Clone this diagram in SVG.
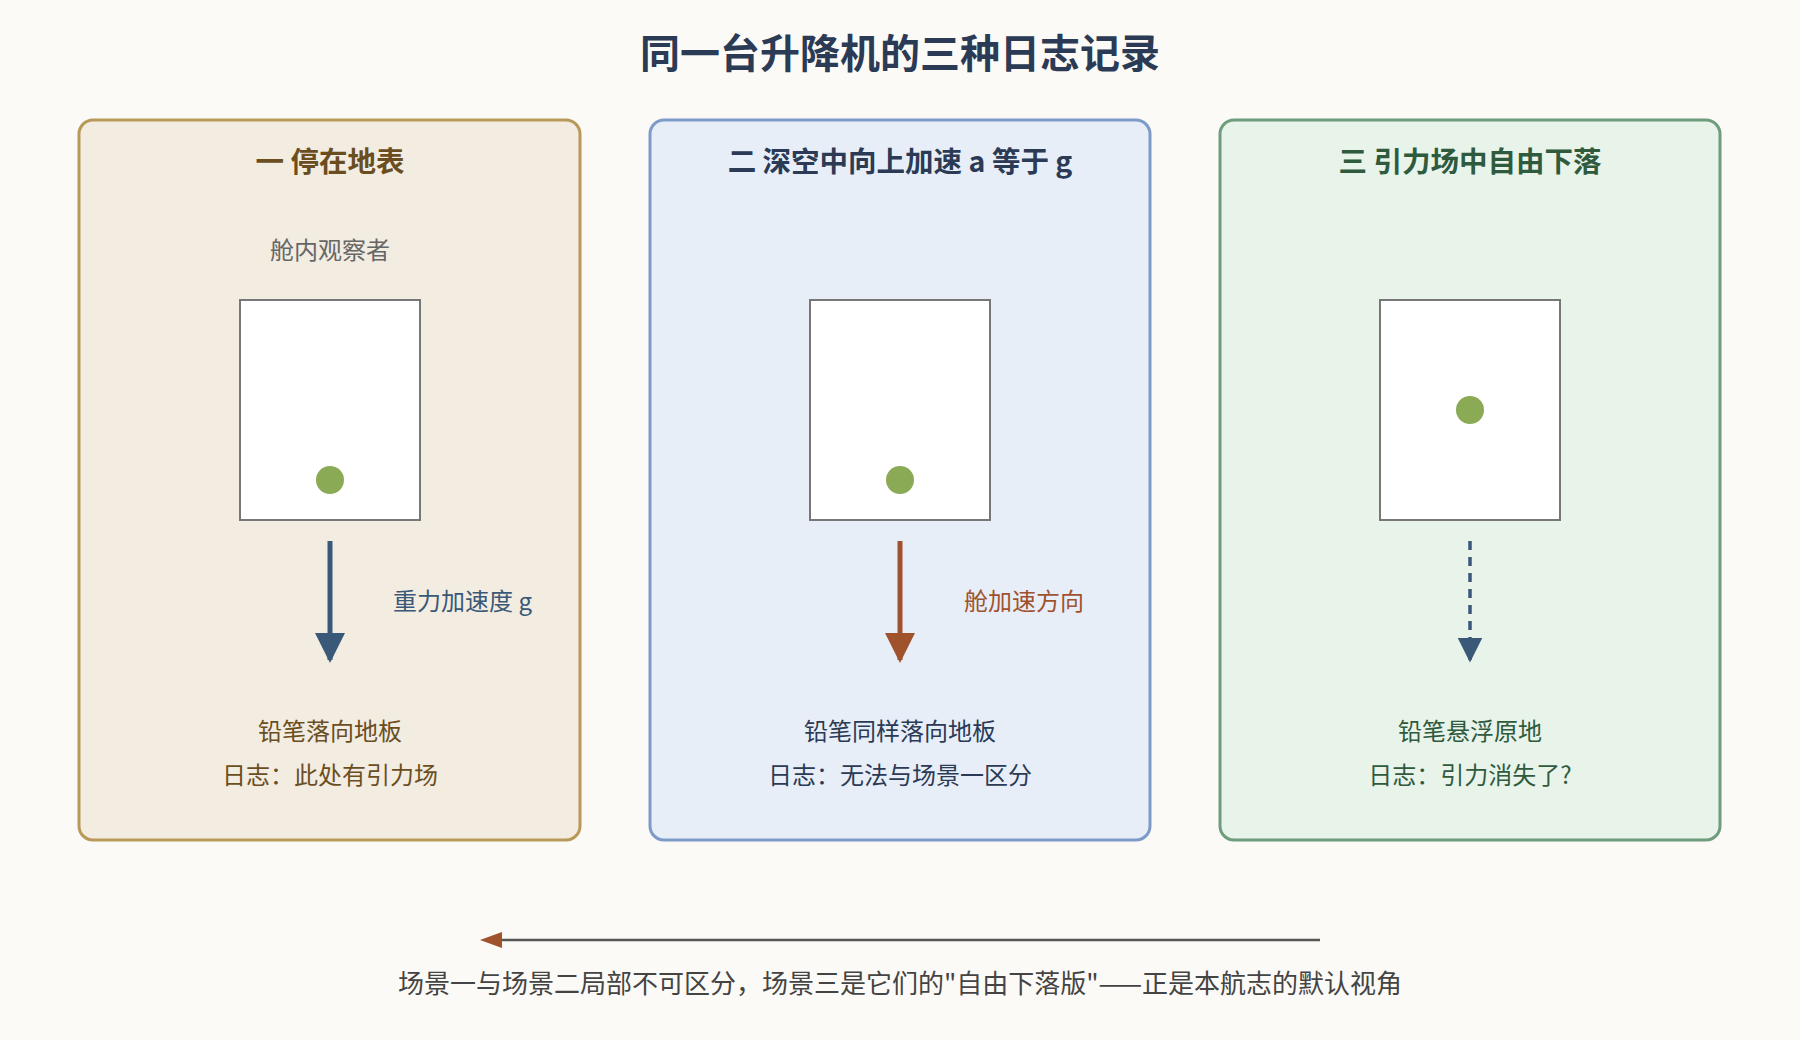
<svg xmlns="http://www.w3.org/2000/svg" width="1800" height="1040" viewBox="0 0 1800 1040">
<style>
text{font-family:"Noto Sans CJK SC","Noto Sans",sans-serif;text-anchor:middle}
.title{font-size:40px;font-weight:bold;fill:#2b3a55}
.pt{font-size:28.5px;font-weight:bold}
.t{font-size:24px}
.box{fill:#fff;stroke:#777;stroke-width:2}
.dot{fill:#8aaa55}
</style>
<defs>
<marker id="hb" viewBox="0 0 10 10" refX="9" refY="5" markerWidth="7" markerHeight="6" orient="auto" markerUnits="strokeWidth"><path d="M0,0L10,5L0,10z" fill="#3a5878"/></marker>
<marker id="ho" viewBox="0 0 10 10" refX="9" refY="5" markerWidth="7" markerHeight="6" orient="auto" markerUnits="strokeWidth"><path d="M0,0L10,5L0,10z" fill="#a0522d"/></marker>
<marker id="hd" viewBox="0 0 10 10" refX="9" refY="5" markerWidth="7.5" markerHeight="7" orient="auto" markerUnits="strokeWidth"><path d="M0,0L10,5L0,10z" fill="#3a5878"/></marker>
</defs>
<rect width="1800" height="1040" fill="#fcfaf6"/>
<text class="title" x="900" y="68">同一台升降机的三种日志记录</text>
<g id="scene1">
<rect x="79" y="120" width="501" height="720" rx="14" fill="#f2ece1" stroke="#b8995a" stroke-width="3"/>
<text class="pt" x="330" y="172" fill="#6b4e1f">一 停在地表</text>
<text class="t" x="330" y="259" fill="#666">舱内观察者</text>
<rect class="box" x="240" y="300" width="180" height="220"/>
<circle class="dot" cx="330" cy="480" r="14"/>
<text class="t" x="330" y="740" fill="#6b4e1f">铅笔落向地板</text>
<text class="t" x="330" y="784" fill="#6b4e1f">日志：此处有引力场</text>
</g>
<g id="scene2">
<rect x="650" y="120" width="500" height="720" rx="14" fill="#e7eef8" stroke="#7d9ac9" stroke-width="3"/>
<text class="pt" x="900" y="172" fill="#2b3a55">二 深空中向上加速 a 等于 g</text>
<rect class="box" x="810" y="300" width="180" height="220"/>
<circle class="dot" cx="900" cy="480" r="14"/>
<text class="t" x="900" y="740" fill="#2b3a55">铅笔同样落向地板</text>
<text class="t" x="900" y="784" fill="#2b3a55">日志：无法与场景一区分</text>
</g>
<g id="scene3">
<rect x="1220" y="120" width="500" height="720" rx="14" fill="#e8f3ea" stroke="#6e9c7c" stroke-width="3"/>
<text class="pt" x="1470" y="172" fill="#2f5a3e">三 引力场中自由下落</text>
<rect class="box" x="1380" y="300" width="180" height="220"/>
<circle class="dot" cx="1470" cy="410" r="14"/>
<text class="t" x="1470" y="740" fill="#2f5a3e">铅笔悬浮原地</text>
<text class="t" x="1470" y="784" fill="#2f5a3e">日志：引力消失了?</text>
</g>
<g id="connectors">
<line x1="330" y1="541" x2="330" y2="660" stroke="#3a5878" stroke-width="5" marker-end="url(#hb)"/>
<text class="t" x="393" y="610" fill="#3a5878" style="text-anchor:start">重力加速度 g</text>
<line x1="900" y1="541" x2="900" y2="660" stroke="#a0522d" stroke-width="5" marker-end="url(#ho)"/>
<text class="t" x="964" y="610" fill="#a0522d" style="text-anchor:start">舱加速方向</text>
<line x1="1470" y1="541" x2="1470" y2="660" stroke="#3a5878" stroke-width="3.5" stroke-dasharray="9,7" marker-end="url(#hd)"/>
<line x1="1320" y1="940" x2="490" y2="940" stroke="#555" stroke-width="2.5"/>
<path d="M480,940L502,932L502,948z" fill="#a0522d"/>
<text x="900" y="993" fill="#444" font-size="26">场景一与场景二局部不可区分，场景三是它们的"自由下落版"——正是本航志的默认视角</text>
</g>
</svg>
